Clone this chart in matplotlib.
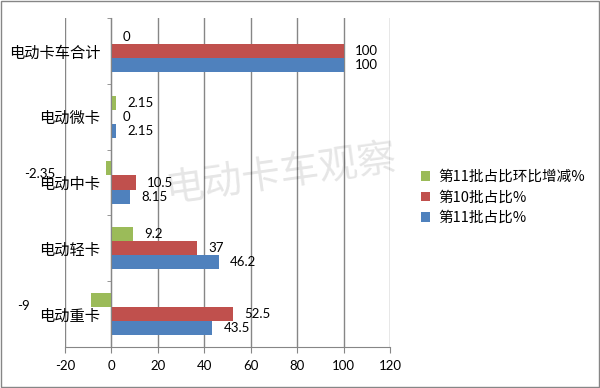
import matplotlib
matplotlib.use("Agg")
import matplotlib.pyplot as plt
import numpy as np
from matplotlib.patches import Rectangle

plt.rcParams['axes.unicode_minus'] = False

categories = ['电动卡车合计', '电动微卡', '电动中卡', '电动轻卡', '电动重卡']
chg_11 = [0, 2.15, -2.35, 9.2, -9]          # 第11批占比环比增减%
share_10 = [100, 0, 10.5, 37, 52.5]         # 第10批占比%
share_11 = [100, 2.15, 8.15, 46.2, 43.5]    # 第11批占比%
xticks = [-20, 0, 20, 40, 60, 80, 100, 120]

series = [
    ('第11批占比环比增减%', chg_11, '#9BBB59'),
    ('第10批占比%', share_10, '#C0504D'),
    ('第11批占比%', share_11, '#4F81BD'),
]

cjk = ['Noto Sans CJK SC', 'DejaVu Sans']
num = ['Lato', 'DejaVu Sans']

fig = plt.figure(figsize=(6.0, 3.88), dpi=100)
ax = fig.add_axes([65/600, 1-347/388, (390-65)/600, (347-18)/388])

for s in ['top', 'right']:
    ax.spines[s].set_visible(False)
ax.spines['left'].set_position(('data', 0))
ax.spines['left'].set_color('#868686')
ax.spines['left'].set_zorder(4)
ax.spines['bottom'].set_color('#868686')

n = len(categories)
ypos = np.arange(n)[::-1]  # top category first
h = 0.213
offsets = [h, 0, -h]

handles = []
for (name, vals, col), off in zip(series, offsets):
    b = ax.barh(ypos + off, vals, height=h, color=col, zorder=3, label=name)
    handles.append(b)
    for y, v in zip(ypos + off, vals):
        txt = '{:g}'.format(v)
        if v >= 0:
            ax.annotate(txt, (v, y), xytext=(8, 0), textcoords='offset points',
                        ha='left', va='center', fontsize=9.5, family=num, zorder=5)
        else:
            ax.annotate(txt, (v, y), xytext=(-48, -4), textcoords='offset points',
                        ha='center', va='center', fontsize=9.5, family=num, zorder=5)

ax.set_xlim(-20, 120)
ax.set_ylim(-0.5, n - 0.5)
ax.set_xticks(xticks)
ax.set_xticklabels([str(t) for t in xticks], fontsize=9.5, family=num)
ax.set_yticks(ypos)
ax.set_yticklabels(categories, fontsize=11, family=cjk)
ax.set_yticks(np.arange(n + 1) - 0.5, minor=True)
ax.tick_params(axis='y', which='major', length=0, pad=8)
ax.tick_params(axis='y', which='minor', length=3, color='#868686')
ax.tick_params(axis='x', length=4, color='#868686', pad=5)

ax.grid(axis='x', color='#868686', linewidth=1, zorder=0)
ax.grid(axis='y', visible=False)

fig.text(0.467, 0.55, '电动卡车观察', fontsize=28, family=cjk, color='#000000',
         alpha=0.10, rotation=8, ha='center', va='center', zorder=10)

fig.legend(handles=handles, loc='upper left', bbox_to_anchor=(408/600, 1-157/388),
           frameon=False, prop={'family': cjk, 'size': 10.5},
           handlelength=0.6, handleheight=0.6, handletextpad=0.6, labelspacing=0.45)

fig.patches.append(Rectangle((0.002, 0.003), 0.996, 0.994, transform=fig.transFigure,
                             fill=False, edgecolor='#868686', linewidth=1))

fig.savefig('out.png', dpi=100)
